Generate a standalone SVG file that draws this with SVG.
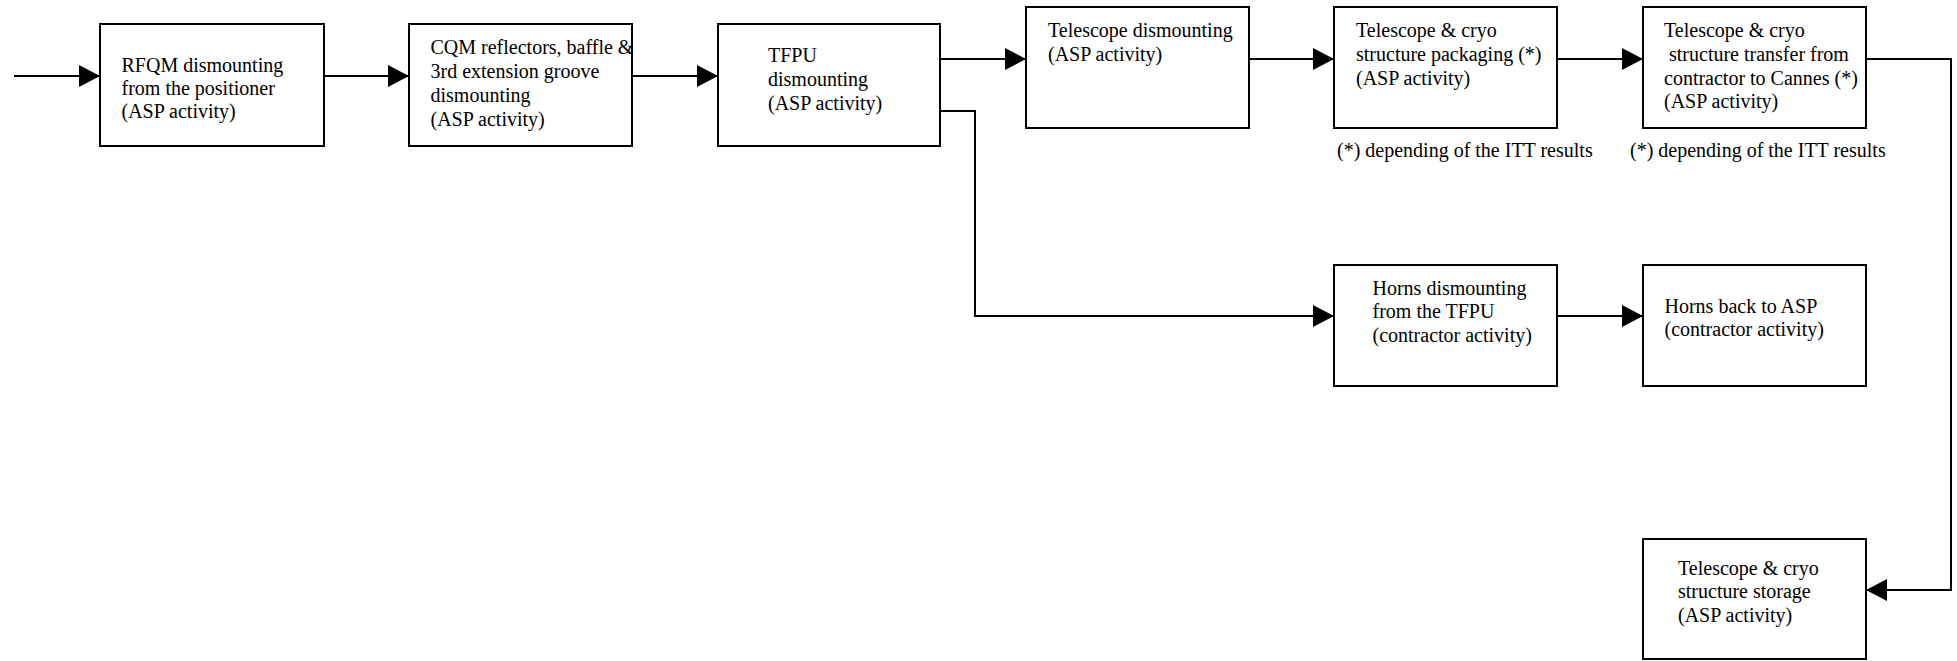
<svg xmlns="http://www.w3.org/2000/svg" width="1957" height="661" viewBox="0 0 1957 661">
  <defs>
    <marker id="arrow" markerUnits="userSpaceOnUse" markerWidth="21" markerHeight="22" refX="21" refY="11" orient="auto">
      <path d="M0,0 L21,11 L0,22 z" fill="#000"/>
    </marker>
    <style>
      .box { fill: #fff; stroke: #000; stroke-width: 2; }
      .lbl { font-family: "Liberation Serif", "Times New Roman", serif; font-size: 20px; fill: #000; }
      .conn { fill: none; stroke: #000; stroke-width: 2; marker-end: url(#arrow); }
    </style>
  </defs>
  <rect width="1957" height="661" fill="#fff"/>

  <g id="connectors">
    <path class="conn" d="M14,76 H100"/>
    <path class="conn" d="M324,76 H409"/>
    <path class="conn" d="M632,76 H718"/>
    <path class="conn" d="M940,59 H1026"/>
    <path class="conn" d="M940,111 H975 V316 H1334"/>
    <path class="conn" d="M1249,59 H1334"/>
    <path class="conn" d="M1557,59 H1643"/>
    <path class="conn" d="M1866,59 H1951 V590 H1866"/>
    <path class="conn" d="M1557,316 H1643"/>
  </g>

  <g id="rfqm">
    <rect class="box" x="100" y="24" width="224" height="122"/>
    <text class="lbl"><tspan x="121.5" y="72">RFQM dismounting</tspan><tspan x="121.5" y="95">from the positioner</tspan><tspan x="121.5" y="118">(ASP activity)</tspan></text>
  </g>

  <g id="cqm">
    <rect class="box" x="409" y="24" width="223" height="122"/>
    <text class="lbl"><tspan x="430.5" y="54">CQM reflectors, baffle &amp;</tspan><tspan x="430.5" y="78">3rd extension groove</tspan><tspan x="430.5" y="102">dismounting</tspan><tspan x="430.5" y="126">(ASP activity)</tspan></text>
  </g>

  <g id="tfpu">
    <rect class="box" x="718" y="24" width="222" height="122"/>
    <text class="lbl"><tspan x="768" y="62">TFPU</tspan><tspan x="768" y="86">dismounting</tspan><tspan x="768" y="110">(ASP activity)</tspan></text>
  </g>

  <g id="telescope-dismounting">
    <rect class="box" x="1026" y="7" width="223" height="121"/>
    <text class="lbl"><tspan x="1048" y="37">Telescope dismounting</tspan><tspan x="1048" y="61">(ASP activity)</tspan></text>
  </g>

  <g id="packaging">
    <rect class="box" x="1334" y="7" width="223" height="121"/>
    <text class="lbl"><tspan x="1356" y="37">Telescope &amp; cryo</tspan><tspan x="1356" y="61">structure packaging (*)</tspan><tspan x="1356" y="85">(ASP activity)</tspan></text>
    <text class="lbl" x="1337" y="157">(*) depending of the ITT results</text>
  </g>

  <g id="transfer">
    <rect class="box" x="1643" y="7" width="223" height="121"/>
    <text class="lbl" xml:space="preserve"><tspan x="1664" y="37">Telescope &amp; cryo</tspan><tspan x="1664" y="61"> structure transfer from</tspan><tspan x="1664" y="85">contractor to Cannes (*)</tspan><tspan x="1664" y="108">(ASP activity)</tspan></text>
    <text class="lbl" x="1630" y="157">(*) depending of the ITT results</text>
  </g>

  <g id="horns-dismounting">
    <rect class="box" x="1334" y="265" width="223" height="121"/>
    <text class="lbl"><tspan x="1372.5" y="295">Horns dismounting</tspan><tspan x="1372.5" y="318">from the TFPU</tspan><tspan x="1372.5" y="342">(contractor activity)</tspan></text>
  </g>

  <g id="horns-back">
    <rect class="box" x="1643" y="265" width="223" height="121"/>
    <text class="lbl"><tspan x="1664.5" y="313">Horns back to ASP</tspan><tspan x="1664.5" y="336">(contractor activity)</tspan></text>
  </g>

  <g id="storage">
    <rect class="box" x="1643" y="539" width="223" height="120"/>
    <text class="lbl"><tspan x="1678" y="575">Telescope &amp; cryo</tspan><tspan x="1678" y="598">structure storage</tspan><tspan x="1678" y="622">(ASP activity)</tspan></text>
  </g>
</svg>
